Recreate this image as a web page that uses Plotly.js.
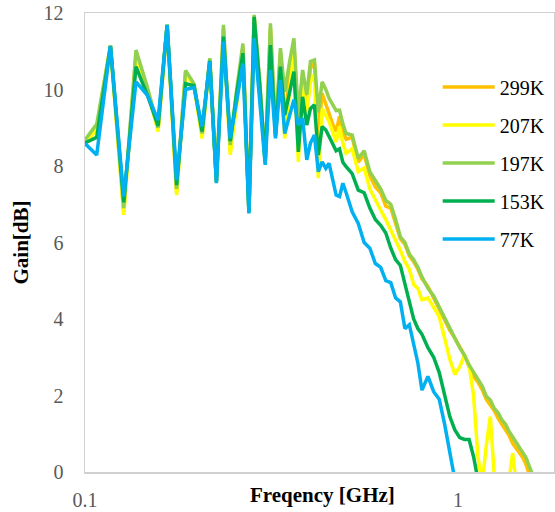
<!DOCTYPE html>
<html>
<head>
<meta charset="utf-8">
<script src="https://cdn.plot.ly/plotly-3.0.1.min.js"></script>
<style>
  html, body { margin: 0; padding: 0; background: #ffffff; }
  #chart { width: 555px; height: 512px; }
</style>
</head>
<body>
<div id="chart"></div>
<script>
// Measurement frequencies in GHz (shared by every temperature curve)
const freqGHz = [
  0.100, 0.1075, 0.117, 0.127, 0.137, 0.147, 0.157, 0.166, 0.176, 0.186,
  0.196, 0.206, 0.216, 0.225, 0.235, 0.245, 0.255, 0.265, 0.275, 0.284,
  0.294, 0.304, 0.314, 0.324, 0.334, 0.343, 0.353, 0.363, 0.373, 0.383,
  0.393, 0.402, 0.412, 0.422, 0.432, 0.442, 0.451, 0.461, 0.471, 0.481,
  0.491, 0.501,
  0.52, 0.54, 0.56, 0.58, 0.60, 0.62, 0.64, 0.66, 0.68, 0.70,
  0.72, 0.74, 0.76, 0.78, 0.80,
  0.83, 0.86, 0.89, 0.92, 0.95, 0.98, 1.01, 1.04, 1.07, 1.10,
  1.13, 1.16, 1.19, 1.22, 1.25, 1.28, 1.31, 1.34, 1.37, 1.40,
  1.43, 1.46, 1.49, 1.52, 1.55, 1.58
];

// Gain in dB for each temperature
const gain299K = [
  8.6, 9.0, 11.14, 6.8, 10.95, 10.0, 8.95, 11.69, 7.3, 10.45,
  10.1, 8.8, 10.8, 7.6, 11.6, 8.4, 9.8, 11.1, 6.8, 11.9,
  10.1, 8.1, 11.6, 8.85, 10.95, 9.2, 10.3, 11.2, 9.0, 10.4,
  9.5, 10.55, 10.7, 8.8, 9.9, 9.6, 9.33, 9.1, 8.9, 9.3,
  8.9, 8.7,
  8.75, 8.1, 8.3, 7.75, 7.45, 7.3, 6.95, 6.9, 6.5, 6.1,
  5.95, 5.65, 5.5, 5.3, 5.05,
  4.85, 4.55, 4.25, 4.0, 3.7, 3.5, 3.25, 3.05, 2.75, 2.5,
  2.35, 2.15, 1.9, 1.75, 1.6, 1.4, 1.25, 1.1, 0.95, 0.75,
  0.62, 0.5, 0.38, 0.2, -0.05, null
];

const gain207K = [
  8.6, 8.95, 11.14, 6.72, 10.9, 10.0, 8.9, 11.69, 7.24, 10.4,
  10.1, 8.72, 10.78, 7.6, 11.5, 8.29, 9.6, 11.0, 6.8, 11.85,
  10.0, 8.1, 11.45, 8.75, 10.85, 8.72, 9.9, 11.0, 8.11, 10.2,
  9.4, 10.2, 10.4, 7.68, 9.51, 9.3, 9.16, 8.9, 8.63, 9.03,
  8.6, 8.33,
  8.45, 7.85, 7.95, 7.4, 7.1, 6.85, 6.6, 6.3, 6.05, 5.8,
  5.5, 5.3, 4.9, 4.8, 4.5,
  4.55, 4.32, 4.06, 3.5, 2.95, 2.55, 2.75, 3.05, 2.8, 2.0,
  0.4, -0.3, 0.7, 1.45, -0.1, -0.6, -0.6, -0.6, -0.2, 0.5,
  -0.3, null, null, null, null, null
];

const gain197K = [
  8.68, 9.1, 11.14, 6.9, 11.03, 10.05, 9.0, 11.69, 7.4, 10.5,
  10.15, 8.85, 10.82, 7.6, 11.69, 8.55, 10.0, 11.2, 6.8, 11.95,
  10.2, 8.1, 11.73, 8.9, 11.08, 9.94, 10.7, 11.34, 9.33, 10.51,
  9.86, 10.73, 10.77, 9.4, 10.2, 10.0, 9.77, 9.6, 9.45, 9.46,
  9.1, 8.85,
  8.81, 8.2, 8.4, 7.85, 7.6, 7.4, 7.1, 7.0, 6.6, 6.15,
  6.0, 5.7, 5.55, 5.35, 5.1,
  4.8, 4.6, 4.3, 4.0, 3.72, 3.5, 3.25, 3.05, 2.8, 2.62,
  2.42, 2.25, 1.98, 1.88, 1.66, 1.55, 1.36, 1.25, 1.06, 0.92,
  0.76, 0.66, 0.5, 0.38, 0.16, -0.05
];

const gain153K = [
  8.6, 8.75, 11.14, 7.05, 10.6, 9.85, 9.05, 11.69, 7.5, 10.15,
  10.1, 8.9, 10.75, 7.6, 11.38, 8.65, 9.9, 10.95, 6.8, 11.9,
  10.1, 8.1, 11.16, 8.8, 10.6, 9.33, 9.9, 10.47, 8.37, 9.81,
  9.07, 9.5, 9.6, 8.29, 9.03, 8.94, 8.77, 8.6, 8.4, 8.45,
  8.1, 7.98,
  7.8, 7.37, 7.3, 6.9, 6.6, 6.45, 6.25, 5.85, 5.55, 5.4,
  4.9, 4.5, 4.0, 3.75, 3.6,
  3.25, 3.0, 2.6, 2.05, 1.45, 1.1, 0.9, 0.85, 0.85, 0.4,
  -0.2, null, null, null, null, null, null, null, null, null,
  null, null, null, null, null, null
];

const gain77K = [
  8.59, 8.29, 11.14, 7.2, 10.2, 9.85, 9.2, 11.69, 7.63, 10.0,
  10.05, 9.03, 10.73, 7.55, 11.25, 8.72, 9.7, 10.68, 6.76, 11.34,
  9.7, 8.03, 10.51, 8.72, 10.25, 8.85, 9.3, 9.73, 9.07, 9.25,
  8.16, 8.6, 8.81, 7.85, 8.11, 7.94, 8.07, 7.6, 7.24, 7.2,
  7.55, 7.3,
  6.8, 6.5, 6.0, 5.85, 5.45, 5.35, 5.0, 4.95, 4.55, 4.45,
  3.75, 3.85, 3.3, 2.85, 2.14,
  2.5, 2.1, 1.9, 1.25, 0.55, -0.2, null, null, null, null,
  null, null, null, null, null, null, null, null, null, null,
  null, null, null, null, null, null
];

const seriesNames = ['299K', '207K', '197K', '153K', '77K'];
const seriesGains = [gain299K, gain207K, gain197K, gain153K, gain77K];
const seriesColors = ['#FFC000', '#FFFF00', '#92D050', '#00B050', '#00B0F0'];

const yTicks = [0, 2, 4, 6, 8, 10, 12];
const xTicks = [0.1, 1];
const xTickText = ['0.1', '1'];

const serif = "'Liberation Serif', 'Times New Roman', serif";

const traces = seriesNames.map((name, i) => ({
  type: 'scatter',
  mode: 'lines',
  name: name,
  legendgroup: name,
  x: freqGHz,
  y: seriesGains[i],
  connectgaps: false,
  line: { color: seriesColors[i], width: 3.5, shape: 'linear' },
  hoverinfo: 'skip'
}));

const layout = {
  width: 555,
  height: 512,
  margin: { l: 85, r: 1, t: 13, b: 40 },
  paper_bgcolor: '#ffffff',
  plot_bgcolor: '#ffffff',
  font: { family: serif, size: 20, color: '#000000' },
  showlegend: true,
  legend: {
    x: 0.752, xanchor: 'left',
    y: 0.881, yanchor: 'top',
    bgcolor: 'rgba(255,255,255,0)',
    font: { family: serif, size: 20, color: '#000000' },
    traceorder: 'grouped',
    tracegroupgap: 9,
    itemwidth: 52
  },
  xaxis: {
    type: 'log',
    range: [-1, Math.log10(1.807)],
    tickvals: xTicks,
    ticktext: xTickText,
    tickfont: { family: serif, size: 20, color: '#595959' },
    ticks: '',
    ticklabelstandoff: 9,
    showgrid: false,
    zeroline: false,
    showline: true,
    mirror: true,
    linecolor: '#D0D0D0',
    linewidth: 1.5
  },
  yaxis: {
    range: [0, 12],
    tickvals: yTicks,
    tickfont: { family: serif, size: 20, color: '#595959' },
    ticks: '',
    ticklabelstandoff: 16,
    showgrid: false,
    zeroline: false,
    showline: true,
    mirror: true,
    linecolor: '#D0D0D0',
    linewidth: 1.5,
    title: {
      text: 'Gain[dB]',
      font: { family: serif, size: 21, color: '#000000', weight: 'bold' },
      standoff: 9
    }
  },
  annotations: [{
    text: '<b>Freqency [GHz]</b>',
    xref: 'paper', yref: 'paper',
    x: 0.507, y: -0.05,
    xanchor: 'center', yanchor: 'middle',
    showarrow: false,
    font: { family: serif, size: 21, color: '#000000' }
  }]
};

Plotly.newPlot('chart', traces, layout, { displayModeBar: false, staticPlot: true });
</script>
</body>
</html>
